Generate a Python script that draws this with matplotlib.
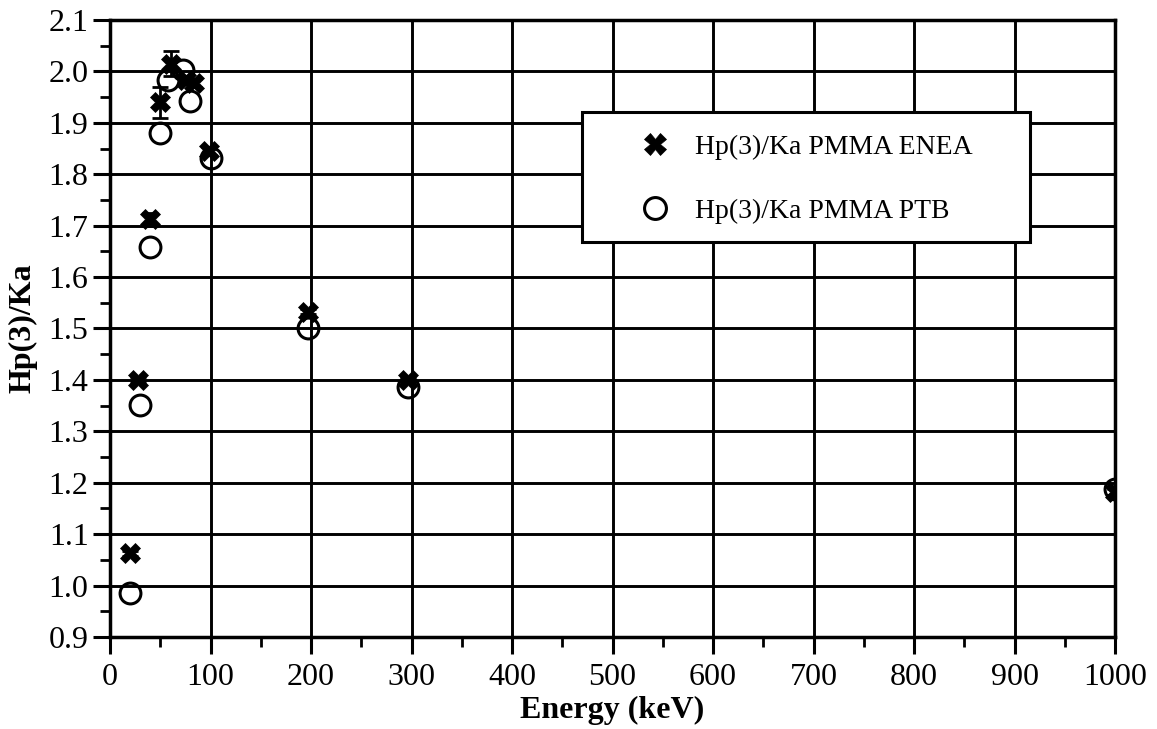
import matplotlib.pyplot as plt
from matplotlib.patches import Rectangle
from matplotlib.ticker import MultipleLocator

plt.rcParams['font.family'] = ['Liberation Serif', 'DejaVu Serif']

# ENEA measurements (PMMA phantom)
enea_energy = [20, 28, 40, 50, 61, 76, 84, 98, 197, 296, 1000]
enea_ratio = [1.063, 1.400, 1.712, 1.940, 2.015, 1.983, 1.978, 1.845, 1.533, 1.400, 1.182]
enea_err = [0.005, 0.005, 0.012, 0.030, 0.024, 0.008, 0.008, 0.008, 0.005, 0.005, 0.005]

# PTB measurements (PMMA phantom)
ptb_energy = [20, 30, 40, 50, 58, 73, 80, 100, 197, 296, 1000]
ptb_ratio = [0.985, 1.351, 1.658, 1.881, 1.983, 2.003, 1.942, 1.832, 1.500, 1.387, 1.188]

fs = 23
fig = plt.figure(figsize=(11.57, 7.29), dpi=100)
ax = fig.add_axes([0.0951, 0.1262, 0.8686, 0.8464])

ax.errorbar(enea_energy, enea_ratio, yerr=enea_err, fmt='none', ecolor='k',
            capsize=6, elinewidth=2, capthick=2, zorder=4)
ax.plot(enea_energy, enea_ratio, 'X', color='k', markersize=15,
        markeredgewidth=0.5, zorder=4, label='Hp(3)/Ka PMMA ENEA')
ax.plot(ptb_energy, ptb_ratio, 'o', markersize=15, markerfacecolor='none',
        markeredgecolor='k', markeredgewidth=2.2, zorder=5,
        label='Hp(3)/Ka PMMA PTB')

ax.set_xlim(0, 1000)
ax.set_ylim(0.9, 2.1)
ax.xaxis.set_major_locator(MultipleLocator(100))
ax.xaxis.set_minor_locator(MultipleLocator(50))
ax.yaxis.set_major_locator(MultipleLocator(0.1))
ax.yaxis.set_minor_locator(MultipleLocator(0.05))
ax.yaxis.set_major_formatter(plt.FormatStrFormatter('%.1f'))

ax.grid(True, which='major', color='k', linewidth=2.1)
ax.set_axisbelow(True)
for sp in ax.spines.values():
    sp.set_linewidth(2.5)
ax.tick_params(which='major', direction='out', length=12.5, width=2.2,
               labelsize=fs)
ax.tick_params(which='minor', direction='out', length=7, width=2)
ax.tick_params(axis='x', which='major', pad=6)
ax.tick_params(axis='y', which='major', pad=3)

ax.set_xlabel('Energy (keV)', fontsize=fs, fontweight='bold', labelpad=3)
ax.set_ylabel('Hp(3)/Ka', fontsize=fs, fontweight='bold', labelpad=8)

# legend box: plain white frame over the grid
box = Rectangle((0.4697, 0.640), 0.4457, 0.2108, transform=ax.transAxes,
                facecolor='white', edgecolor='k', linewidth=2.2, zorder=6)
ax.add_patch(box)
leg = ax.legend(loc='center left', bbox_to_anchor=(0.528, 0.742),
                fontsize=20, frameon=False, borderpad=0, borderaxespad=0,
                labelspacing=1.4, handlelength=1.0, handletextpad=0.95,
                numpoints=1, markerscale=1.05)
leg.set_zorder(7)

fig.savefig('out.png', dpi=100)
